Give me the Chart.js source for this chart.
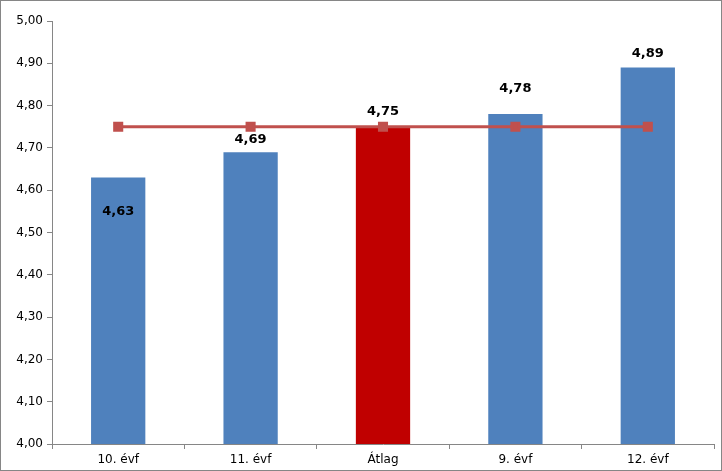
<!DOCTYPE html>
<html>
<head>
<meta charset="utf-8">
<script src="https://cdn.jsdelivr.net/npm/chart.js@4/dist/chart.umd.min.js"></script>
<style>
  html, body { margin: 0; padding: 0; background: #fff; }
  #wrap { width: 722px; height: 471px; position: relative; }
</style>
</head>
<body>
<div id="wrap"><canvas id="chart" width="722" height="471"></canvas></div>
<script>
// Adatok
const categories = ["10. évf", "11. évf", "Átlag", "9. évf", "12. évf"];
const values = [4.63, 4.69, 4.75, 4.78, 4.89];
const average = [4.75, 4.75, 4.75, 4.75, 4.75];
const barColors = ["#4F81BD", "#4F81BD", "#C00000", "#4F81BD", "#4F81BD"];

// címkék függőleges eltolása az oszlop tetejéhez képest (px)
const labelShift = [34, -13, -15, -25, -14];

const fmt = v => Number(v).toFixed(2).replace(".", ",");

const frame = {
    id: "frame",
    afterDraw(chart) {
        const c = chart.ctx;
        c.save();
        c.strokeStyle = "#868686";
        c.lineWidth = 1;
        c.strokeRect(0.5, 0.5, chart.width - 1, chart.height - 1);
        c.restore();
    }
};

const barLabels = {
    id: "barLabels",
    afterDatasetsDraw(chart) {
        const c = chart.ctx;
        const meta = chart.getDatasetMeta(1); // az oszlopok
        c.save();
        c.font = "bold 13px 'DejaVu Sans', sans-serif";
        c.fillStyle = "#000";
        c.textAlign = "center";
        c.textBaseline = "middle";
        meta.data.forEach((bar, i) => {
            c.fillText(fmt(values[i]), bar.x, bar.y + labelShift[i]);
        });
        c.restore();
    }
};

new Chart(document.getElementById("chart"), {
    data: {
        labels: categories,
        datasets: [
            {
                type: "line",
                data: average,
                borderColor: "#C0504D",
                backgroundColor: "#C0504D",
                borderWidth: 3,
                pointStyle: "rect",
                pointRadius: 5,
                pointHoverRadius: 5,
                order: 0
            },
            {
                type: "bar",
                data: values,
                backgroundColor: barColors,
                categoryPercentage: 1,
                barPercentage: 0.41,
                order: 1
            }
        ]
    },
    options: {
        responsive: false,
        animation: false,
        layout: { padding: { top: 21, right: 1, left: 0, bottom: 0 } },
        plugins: { legend: { display: false }, tooltip: { enabled: false } },
        scales: {
            x: {
                offset: true,
                grid: { offset: true, drawOnChartArea: false, tickLength: 5, color: "#868686" },
                border: { color: "#868686", width: 1 },
                ticks: { color: "#000", font: { family: "'DejaVu Sans', sans-serif", size: 12 }, padding: 4 },
                afterFit(scale) { scale.height = 27; }
            },
            y: {
                min: 4,
                max: 5,
                grid: { drawOnChartArea: false, tickLength: 5, color: "#868686" },
                border: { color: "#868686", width: 1 },
                ticks: {
                    stepSize: 0.1,
                    color: "#000",
                    font: { family: "'DejaVu Sans', sans-serif", size: 12 },
                    padding: 4,
                    callback: v => fmt(v)
                },
                afterFit(scale) { scale.width = 52; }
            }
        }
    },
    plugins: [barLabels, frame]
});
</script>
</body>
</html>
